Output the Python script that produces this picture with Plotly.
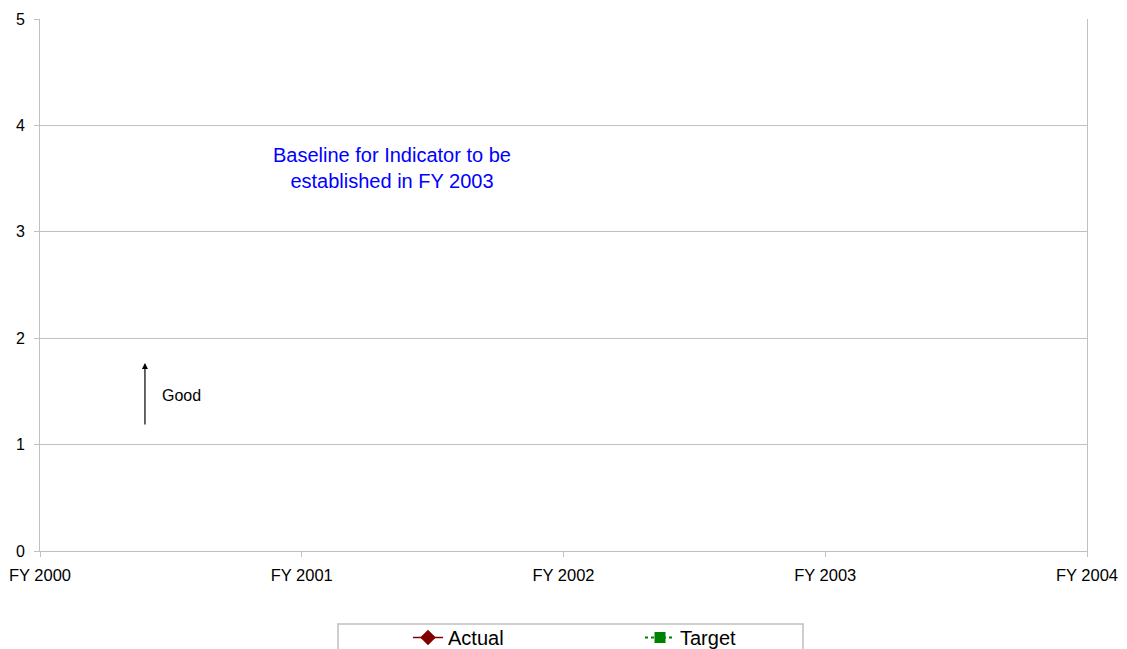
import plotly.graph_objects as go

categories = ["FY 2000", "FY 2001", "FY 2002", "FY 2003", "FY 2004"]
x_pos = [0, 1, 2, 3, 4]
actual = [None, None, None, None, None]
target = [None, None, None, None, None]
y_ticks = [0, 1, 2, 3, 4, 5]

FONT = "Arial, Liberation Sans, sans-serif"
GRID = "#c0c0c0"

fig = go.Figure()
fig.add_trace(go.Scatter(
    x=x_pos, y=actual, name="Actual", mode="lines+markers",
    line=dict(color="#800000", width=1.5),
    marker=dict(symbol="diamond", size=12, color="#800000"),
))
fig.add_trace(go.Scatter(
    x=x_pos, y=target, name="Target", mode="lines+markers",
    line=dict(color="#008000", width=2, dash="dot"),
    marker=dict(symbol="square", size=11, color="#008000"),
))

# legend border box
fig.add_shape(type="rect", xref="paper", yref="paper",
              x0=(338 - 40) / 1047, x1=(803 - 40) / 1047,
              y0=-0.22, y1=(551 - 624) / 532,
              line=dict(color="#c0c0c0", width=1.5), fillcolor="rgba(0,0,0,0)")

fig.add_annotation(x=0.401, y=1.767, ax=0.401, ay=1.175, xref="x", yref="y",
                   axref="x", ayref="y", showarrow=True, arrowhead=2,
                   arrowsize=1, arrowwidth=1.2, arrowcolor="black", text="")
fig.add_annotation(x=0.541, y=1.466, xref="x", yref="y", text="Good",
                   showarrow=False, font=dict(family=FONT, size=16, color="black"))
fig.add_annotation(x=1.345, y=3.595, xref="x", yref="y",
                   text="Baseline for Indicator to be<br>established in FY 2003",
                   showarrow=False, align="center",
                   font=dict(family=FONT, size=20, color="#0000ff"))

fig.update_layout(
    width=1127, height=649,
    margin=dict(l=40, r=40, t=19, b=98, autoexpand=False),
    paper_bgcolor="white", plot_bgcolor="white",
    font=dict(family=FONT, color="black"),
    showlegend=True,
    legend=dict(orientation="h", x=(408 - 40) / 1047, xanchor="left",
                y=(551 - 618) / 532, yanchor="top",
                entrywidth=187, font=dict(family=FONT, size=20, color="black"),
                bgcolor="rgba(0,0,0,0)", borderwidth=0),
    xaxis=dict(range=[0, 4], tickmode="array", tickvals=x_pos, ticktext=categories,
               showgrid=False, zeroline=False, showline=True, linecolor=GRID, linewidth=1,
               ticks="outside", ticklen=5, tickcolor=GRID, ticklabelstandoff=4,
               tickfont=dict(family=FONT, size=16.5, color="black")),
    yaxis=dict(range=[0, 5], tickmode="array", tickvals=y_ticks,
               showgrid=True, gridcolor=GRID, gridwidth=1, zeroline=False,
               showline=True, linecolor=GRID, linewidth=1, mirror=True,
               ticks="outside", ticklen=5, tickcolor=GRID, ticklabelstandoff=6,
               tickfont=dict(family=FONT, size=16, color="black")),
)

fig.write_html("out.html")
